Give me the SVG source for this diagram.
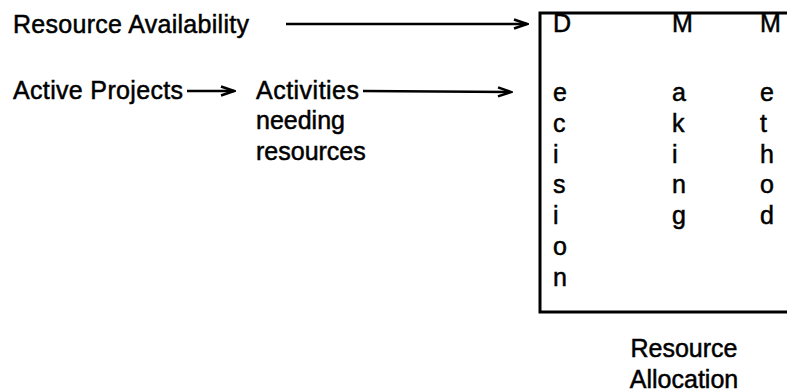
<svg xmlns="http://www.w3.org/2000/svg" width="787" height="392" viewBox="0 0 787 392">
<style>
text{font-family:"Liberation Sans",Arial,sans-serif;font-size:25px;fill:#000;stroke:#000;stroke-width:0.5}
.ln{stroke:#000;stroke-width:2.5;fill:none}
.bx{stroke:#000;stroke-width:3;fill:none}
</style>
<defs>
<marker id="ah" markerUnits="userSpaceOnUse" markerWidth="16" markerHeight="14" refX="14" refY="6" orient="auto">
<path d="M1,1.5 L14,6 L1,10.5" fill="none" stroke="#000" stroke-width="2.5"/>
</marker>
</defs>
<rect width="787" height="392" fill="#fff"/>
<g id="resource-availability"><text x="13" y="33" textLength="236">Resource Availability</text></g>
<g id="active-projects"><text x="13" y="99" textLength="170">Active Projects</text></g>
<g id="activities"><text x="256" y="99" textLength="103">Activities</text><text x="256" y="129">needing</text><text x="256" y="160">resources</text></g>
<g id="decision-making-method">
<path class="bx" d="M787,13 H540 V312 H787"/>
<text x="553" y="32">D</text><text x="553" y="101">e</text><text x="553" y="132">c</text><text x="553" y="163">i</text><text x="553" y="193">s</text><text x="553" y="224">i</text><text x="553" y="255">o</text><text x="553" y="286">n</text>
<text x="672" y="32">M</text><text x="672" y="101">a</text><text x="672" y="132">k</text><text x="672" y="163">i</text><text x="672" y="193">n</text><text x="672" y="224">g</text>
<text x="760" y="32">M</text><text x="760" y="101">e</text><text x="760" y="132">t</text><text x="760" y="163">h</text><text x="760" y="193">o</text><text x="760" y="224">d</text>
</g>
<g id="resource-allocation"><text x="684" y="357" text-anchor="middle">Resource</text><text x="684" y="388" text-anchor="middle">Allocation</text></g>
<g id="connectors">
<line class="ln" x1="286" y1="24" x2="527" y2="24" marker-end="url(#ah)"/>
<line class="ln" x1="187" y1="91" x2="234" y2="91" marker-end="url(#ah)"/>
<line class="ln" x1="363" y1="91" x2="511" y2="92" marker-end="url(#ah)"/>
</g>
</svg>
